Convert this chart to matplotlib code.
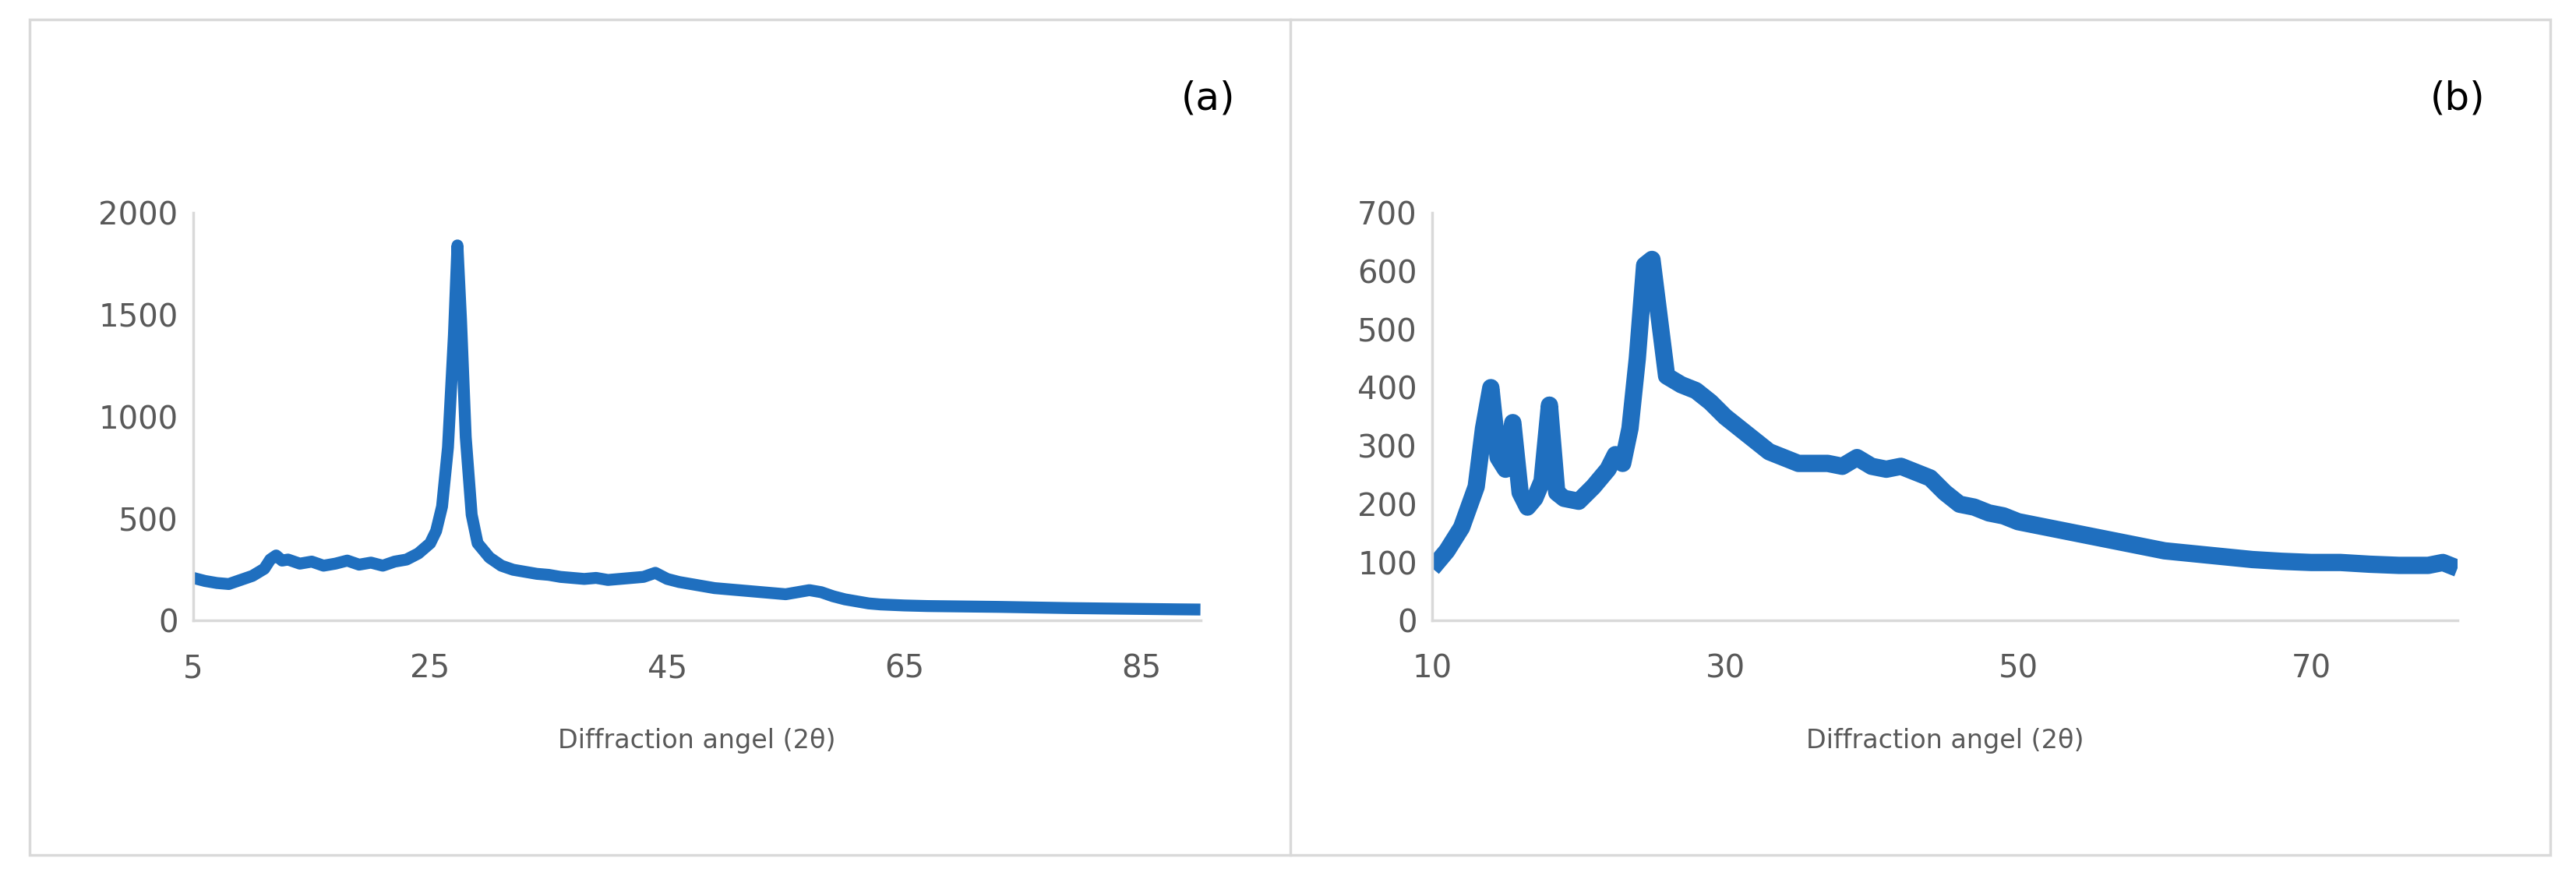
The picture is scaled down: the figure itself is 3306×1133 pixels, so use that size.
import matplotlib
matplotlib.use("Agg")
import matplotlib.pyplot as plt
from matplotlib.patches import Rectangle
from matplotlib.lines import Line2D

# Panel (a)
xa = [5,6,7,8,9,10,11,11.5,12,12.5,13,14,15,16,17,18,19,20,21,22,23,24,25,25.5,26,26.5,27,27.3,27.6,28,28.5,29,30,31,32,33,34,35,36,37,38,39,40,41,42,43,44,45,46,47,48,49,50,51,52,53,54,55,56,57,58,59,60,61,62,63,65,67,70,73,76,79,82,85,88,90]
ya = [210,195,185,180,200,220,255,300,320,295,300,280,290,270,280,295,275,285,270,290,300,330,380,440,560,850,1400,1840,1480,900,520,380,310,270,250,240,230,225,215,210,205,210,200,205,210,215,235,205,190,180,170,160,155,150,145,140,135,130,140,150,140,120,105,95,85,80,75,72,70,68,65,62,60,58,56,55]
# Panel (b)
xb = [10,11,12,13,13.5,14,14.5,15,15.5,16,16.5,17,17.5,18,18.5,19,20,21,22,22.5,23,23.5,24,24.5,25,25.5,26,27,28,29,30,31,32,33,34,35,36,37,38,39,40,41,42,43,44,45,46,47,48,49,50,52,54,56,58,60,62,64,66,68,70,72,74,76,78,79,80]
yb = [90,120,160,230,330,400,280,260,340,220,195,210,240,370,220,210,205,230,260,285,270,330,450,610,620,520,420,405,395,375,350,330,310,290,280,270,270,270,265,280,265,260,265,255,245,220,200,195,185,180,170,160,150,140,130,120,115,110,105,102,100,100,97,95,95,100,90]

blue = "#1f6fbf"
grey_txt = "#595959"
W, H = 3306, 1133
fig = plt.figure(figsize=(W/100, H/100), dpi=100)

fig.add_artist(Rectangle((0.0115, 0.032), 0.9785, 0.946, transform=fig.transFigure,
                         fill=False, edgecolor="#d9d9d9", linewidth=2.5))
fig.add_artist(Line2D([0.501, 0.501], [0.032, 0.978], transform=fig.transFigure,
                      color="#d9d9d9", linewidth=2.5))

def setup(ax, xlim, ylim, xt, yt):
    ax.set_xlim(*xlim); ax.set_ylim(*ylim)
    ax.set_xticks(xt); ax.set_yticks(yt)
    for s in ("top", "right"):
        ax.spines[s].set_visible(False)
    for s in ("left", "bottom"):
        ax.spines[s].set_color("#d9d9d9"); ax.spines[s].set_linewidth(2.5)
    ax.tick_params(length=0, labelsize=29, labelcolor=grey_txt, pad=14)
    ax.tick_params(axis="x", pad=30)
    ax.set_xlabel("Diffraction angel (2θ)", fontsize=24, color=grey_txt, labelpad=40)

ax1 = fig.add_axes([0.075, 0.297, 0.391, 0.462])
ax1.plot(xa, ya, color=blue, lw=11, solid_joinstyle="round", solid_capstyle="butt")
setup(ax1, (5, 90), (0, 2000), [5, 25, 45, 65, 85], [0, 500, 1000, 1500, 2000])

ax2 = fig.add_axes([0.556, 0.297, 0.398, 0.462])
ax2.plot(xb, yb, color=blue, lw=16, solid_joinstyle="round", solid_capstyle="butt")
setup(ax2, (10, 80), (0, 700), [10, 30, 50, 70], list(range(0, 701, 100)))

fig.text(0.469, 0.888, "(a)", fontsize=36, ha="center", va="center", color="black")
fig.text(0.954, 0.888, "(b)", fontsize=36, ha="center", va="center", color="black")

fig.savefig("out.png", dpi=100, facecolor="white")
